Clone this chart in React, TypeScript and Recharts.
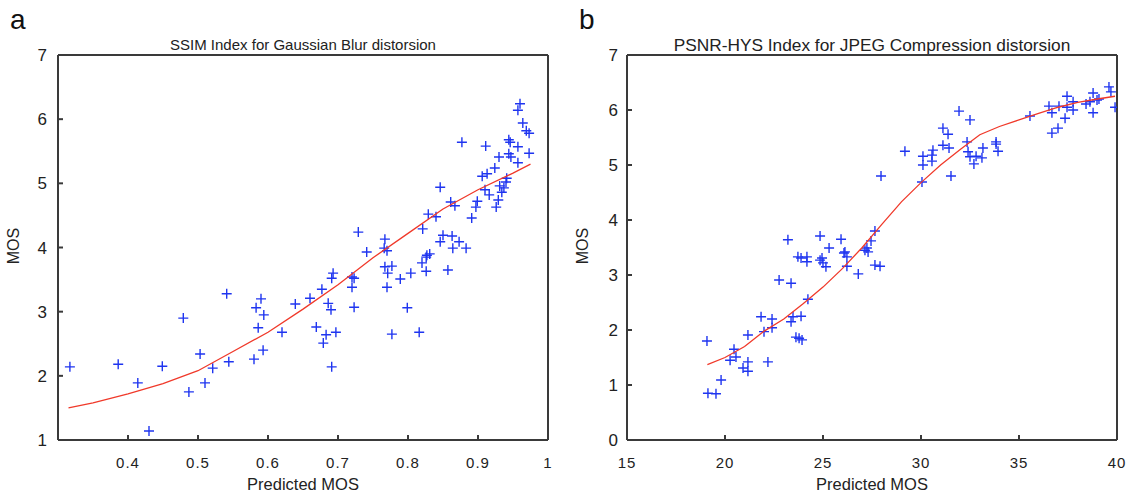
import { ScatterChart, Scatter, XAxis, YAxis, ReferenceLine } from 'recharts';

// panel a: SSIM vs MOS (Gaussian blur)
const ssimX = [
  0.317, 0.386, 0.414, 0.43, 0.449, 0.479, 0.487, 0.503, 0.51, 0.521, 0.541, 0.544, 0.58, 0.583, 0.586,
  0.59, 0.593, 0.594, 0.62, 0.639, 0.66, 0.669, 0.677, 0.679, 0.683, 0.686, 0.69, 0.691, 0.691, 0.693,
  0.697, 0.72, 0.72, 0.723, 0.723, 0.729, 0.741, 0.766, 0.767, 0.767, 0.77, 0.77, 0.771, 0.777, 0.777,
  0.789, 0.799, 0.804, 0.816, 0.82, 0.821, 0.826, 0.826, 0.827, 0.829, 0.831, 0.84, 0.846, 0.846, 0.85,
  0.857, 0.861, 0.863, 0.864, 0.867, 0.873, 0.877, 0.883, 0.891, 0.897, 0.899, 0.906, 0.91, 0.911, 0.913,
  0.916, 0.924, 0.926, 0.929, 0.93, 0.931, 0.934, 0.937, 0.94, 0.941, 0.944, 0.944, 0.946, 0.947, 0.957,
  0.957, 0.957, 0.96, 0.964, 0.969, 0.973, 0.973,
];
const ssimY = [
  2.14, 2.18, 1.89, 1.14, 2.15, 2.9, 1.75, 2.34, 1.89, 2.12, 3.28, 2.22, 2.26, 3.06, 2.75,
  3.2, 2.4, 2.95, 2.68, 3.12, 3.21, 2.76, 3.35, 2.51, 2.64, 3.13, 3.03, 3.52, 2.14, 3.6,
  2.68, 3.54, 3.38, 3.07, 3.52, 4.24, 3.93, 3.99, 3.7, 4.13, 3.95, 3.38, 3.6, 3.71, 2.65,
  3.51, 3.06, 3.6, 2.68, 3.76, 4.29, 3.85, 3.63, 3.88, 4.52, 3.9, 4.48, 4.94, 4.09, 4.19,
  3.65, 4.71, 4.18, 3.99, 4.65, 4.09, 5.64, 3.99, 4.46, 4.63, 4.72, 5.11, 4.9, 5.58, 5.15,
  4.82, 5.24, 4.63, 4.74, 5.41, 4.96, 4.86, 4.93, 5.02, 5.08, 5.68, 5.46, 5.64, 5.41, 6.14,
  5.57, 5.32, 6.24, 5.94, 5.82, 5.78, 5.47,
];
const ssimFitX = [0.315, 0.35, 0.4, 0.45, 0.5, 0.55, 0.6, 0.65, 0.7, 0.75, 0.8, 0.85, 0.9, 0.95, 0.975];
const ssimFitY = [1.5, 1.58, 1.72, 1.88, 2.08, 2.38, 2.68, 3.04, 3.42, 3.84, 4.22, 4.6, 4.9, 5.16, 5.3];
const ssimXTicks = [0.4, 0.5, 0.6, 0.7, 0.8, 0.9, 1];
const ssimYTicks = [1, 2, 3, 4, 5, 6, 7];

// panel b: PSNR-HVS vs MOS (JPEG)
const psnrX = [
  19.08, 19.13, 19.54, 19.8, 20.26, 20.46, 20.56, 20.92, 21.17, 21.17, 21.17, 21.84, 21.99, 22.19, 22.4,
  22.4, 22.76, 23.21, 23.37, 23.37, 23.47, 23.62, 23.72, 23.78, 23.88, 23.88, 23.93, 24.18, 24.18, 24.23,
  24.85, 24.85, 24.95, 25.0, 25.15, 25.31, 25.92, 26.07, 26.12, 26.22, 26.22, 26.8, 27.14, 27.24, 27.3,
  27.45, 27.65, 27.65, 27.91, 27.96, 29.18, 30.05, 30.1, 30.1, 30.56, 30.56, 30.61, 31.12, 31.38, 31.12,
  31.43, 31.53, 31.94, 32.5, 32.35, 32.4, 32.5, 32.81, 32.7, 33.16, 33.11, 33.83, 33.83, 33.93, 35.56,
  36.53, 36.68, 37.04, 37.35, 36.68, 36.99, 37.45, 37.45, 37.76, 37.76, 38.42, 38.62, 38.78, 38.78, 38.98,
  39.08, 39.59, 39.69, 39.9,
];
const psnrY = [
  1.8, 0.85, 0.84, 1.09, 1.45, 1.65, 1.51, 1.31, 1.91, 1.25, 1.42, 2.24, 1.97, 1.42, 2.2,
  2.04, 2.91, 3.64, 2.85, 2.15, 2.24, 1.87, 3.33, 1.85, 3.31, 2.25, 1.82, 3.33, 3.24, 2.56,
  3.71, 3.27, 3.31, 3.22, 3.15, 3.49, 3.65, 3.4, 3.42, 3.33, 3.16, 3.02, 3.45, 3.49, 3.42,
  3.62, 3.8, 3.18, 3.16, 4.8, 5.25, 4.69, 5.16, 5.0, 5.07, 5.18, 5.27, 5.67, 5.56, 5.36,
  5.31, 4.8, 5.98, 5.82, 5.42, 5.24, 5.15, 5.16, 5.02, 5.31, 5.13, 5.42, 5.38, 5.25, 5.89,
  6.07, 5.95, 6.07, 5.85, 5.58, 5.67, 6.25, 6.05, 6.15, 6.0, 6.11, 6.15, 6.31, 5.95, 6.18,
  6.2, 6.42, 6.33, 6.05,
];
const psnrFitX = [19.1, 20, 21, 22, 23, 24, 25, 26, 27, 28, 29, 30, 31, 32, 33, 34, 35, 36, 37, 38, 39, 39.9];
const psnrFitY = [1.37, 1.5, 1.7, 1.98, 2.2, 2.48, 2.78, 3.12, 3.5, 3.92, 4.33, 4.68, 5.0, 5.28, 5.55, 5.7, 5.82, 5.94, 6.05, 6.14, 6.2, 6.25];
const psnrXTicks = [15, 20, 25, 30, 35, 40];
const psnrYTicks = [0, 1, 2, 3, 4, 5, 6, 7];

const zip = (xs: number[], ys: number[]) => xs.map((x, i) => ({ x, y: ys[i] }));

const AXIS = '#3a3a3a';
const TEXT = '#222';
const FONT = '"Liberation Sans", Arial, sans-serif';
const NARROW = '"Liberation Sans Narrow", "Liberation Sans", Arial, sans-serif';
const TICK_LEN = 5;
const AXIS_W = 2;

function Plus(props: any) {
  const { cx, cy } = props;
  if (cx == null || cy == null) return <g />;
  return (
    <path
      d={`M${cx - 5},${cy}H${cx + 5}M${cx},${cy - 5}V${cy + 5}`}
      stroke="#1f35f0"
      strokeWidth={1.4}
      fill="none"
    />
  );
}

// MATLAB-style ticks: short marks pointing into the box, labels outside
function BottomTick({ x, y, payload }: any) {
  return (
    <g>
      <line x1={x} y1={y} x2={x} y2={y - TICK_LEN} stroke={AXIS} strokeWidth={AXIS_W} />
      <text x={x} y={y + 28} textAnchor="middle" fontSize={15} fill={TEXT} fontFamily={FONT} letterSpacing={1}>
        {payload.value}
      </text>
    </g>
  );
}

function makeLeftTick(gap: number) {
  return ({ x, y, payload }: any) => (
    <g>
      <line x1={x} y1={y} x2={x + TICK_LEN} y2={y} stroke={AXIS} strokeWidth={AXIS_W} />
      <text x={x - gap} y={y + 6} textAnchor="end" fontSize={17} fill={TEXT} fontFamily={NARROW}>
        {payload.value}
      </text>
    </g>
  );
}

function TopTick({ x, y }: any) {
  return <line x1={x} y1={y} x2={x} y2={y + TICK_LEN} stroke={AXIS} strokeWidth={AXIS_W} />;
}

function RightTick({ x, y }: any) {
  return <line x1={x} y1={y} x2={x - TICK_LEN} y2={y} stroke={AXIS} strokeWidth={AXIS_W} />;
}

interface PanelProps {
  left: number;
  plotLeft: number;
  letter: string;
  title: string;
  titleSize: number;
  points: { x: number; y: number }[];
  fit: { x: number; y: number }[];
  xDomain: [number, number];
  yDomain: [number, number];
  xTicks: number[];
  yTicks: number[];
  yLabelGap: number;
}

function Panel(p: PanelProps) {
  const W = 565;
  const H = 494;
  const plotRight = W - p.plotLeft - 490;
  const center = p.plotLeft + 245;
  const frame = { stroke: AXIS, strokeWidth: AXIS_W, ifOverflow: 'visible' as const };
  return (
    <div style={{ position: 'absolute', left: p.left, top: 0, width: W, height: H }}>
      <ScatterChart
        width={W}
        height={H}
        margin={{ top: 55, right: plotRight, bottom: 24, left: p.plotLeft - 40 }}
      >
        <XAxis
          xAxisId={0}
          type="number"
          dataKey="x"
          domain={p.xDomain}
          ticks={p.xTicks}
          allowDataOverflow
          height={30}
          axisLine={false}
          tickLine={false}
          tickSize={0}
          tickMargin={0}
          tick={<BottomTick />}
          interval={0}
        />
        <XAxis
          xAxisId="top"
          orientation="top"
          type="number"
          dataKey="x"
          domain={p.xDomain}
          ticks={p.xTicks}
          allowDataOverflow
          height={0}
          axisLine={false}
          tickLine={false}
          tickSize={0}
          tickMargin={0}
          tick={<TopTick />}
          interval={0}
        />
        <YAxis
          yAxisId={0}
          type="number"
          dataKey="y"
          domain={p.yDomain}
          ticks={p.yTicks}
          allowDataOverflow
          width={40}
          axisLine={false}
          tickLine={false}
          tickSize={0}
          tickMargin={0}
          tick={makeLeftTick(p.yLabelGap)}
          interval={0}
        />
        <YAxis
          yAxisId="right"
          orientation="right"
          type="number"
          dataKey="y"
          domain={p.yDomain}
          ticks={p.yTicks}
          allowDataOverflow
          width={0}
          axisLine={false}
          tickLine={false}
          tickSize={0}
          tickMargin={0}
          tick={<RightTick />}
          interval={0}
        />
        <ReferenceLine x={p.xDomain[0]} {...frame} />
        <ReferenceLine x={p.xDomain[1]} {...frame} />
        <ReferenceLine y={p.yDomain[0]} {...frame} />
        <ReferenceLine y={p.yDomain[1]} {...frame} />
        <Scatter data={p.points} shape={<Plus />} isAnimationActive={false} />
        <Scatter
          data={p.fit}
          line={{ stroke: '#f0392a', strokeWidth: 1.3 }}
          shape={() => <g />}
          isAnimationActive={false}
        />
      </ScatterChart>
      <div
        style={{
          position: 'absolute', left: p.plotLeft - 48, top: 6, fontSize: 28,
          fontFamily: FONT, color: '#111', lineHeight: 1,
        }}
      >
        {p.letter}
      </div>
      <div
        style={{
          position: 'absolute', left: center - 260, width: 520, top: 37, textAlign: 'center',
          fontSize: p.titleSize, fontFamily: FONT, color: TEXT, lineHeight: 1,
        }}
      >
        {p.title}
      </div>
      <div
        style={{
          position: 'absolute', left: center - 100, width: 200, top: 476, textAlign: 'center',
          fontSize: 16.5, fontFamily: FONT, color: TEXT, lineHeight: 1,
        }}
      >
        Predicted MOS
      </div>
      <div
        style={{
          position: 'absolute', left: p.plotLeft - 66, top: 238, width: 44, textAlign: 'center',
          fontSize: 16, fontFamily: FONT, color: TEXT, lineHeight: 1,
          transform: 'rotate(-90deg)',
        }}
      >
        MOS
      </div>
    </div>
  );
}

export default function App() {
  return (
    <div style={{ position: 'absolute', left: 0, top: 0, width: 1130, height: 494, background: '#fff' }}>
      <Panel
        left={0}
        plotLeft={58}
        letter="a"
        title="SSIM Index for Gaussian Blur distorsion"
        titleSize={15}
        points={zip(ssimX, ssimY)}
        fit={zip(ssimFitX, ssimFitY)}
        xDomain={[0.3, 1]}
        yDomain={[1, 7]}
        xTicks={ssimXTicks}
        yTicks={ssimYTicks}
        yLabelGap={11}
      />
      <Panel
        left={565}
        plotLeft={62}
        letter="b"
        title="PSNR-HYS Index for JPEG Compression distorsion"
        titleSize={17.3}
        points={zip(psnrX, psnrY)}
        fit={zip(psnrFitX, psnrFitY)}
        xDomain={[15, 40]}
        yDomain={[0, 7]}
        xTicks={psnrXTicks}
        yTicks={psnrYTicks}
        yLabelGap={9}
      />
    </div>
  );
}
